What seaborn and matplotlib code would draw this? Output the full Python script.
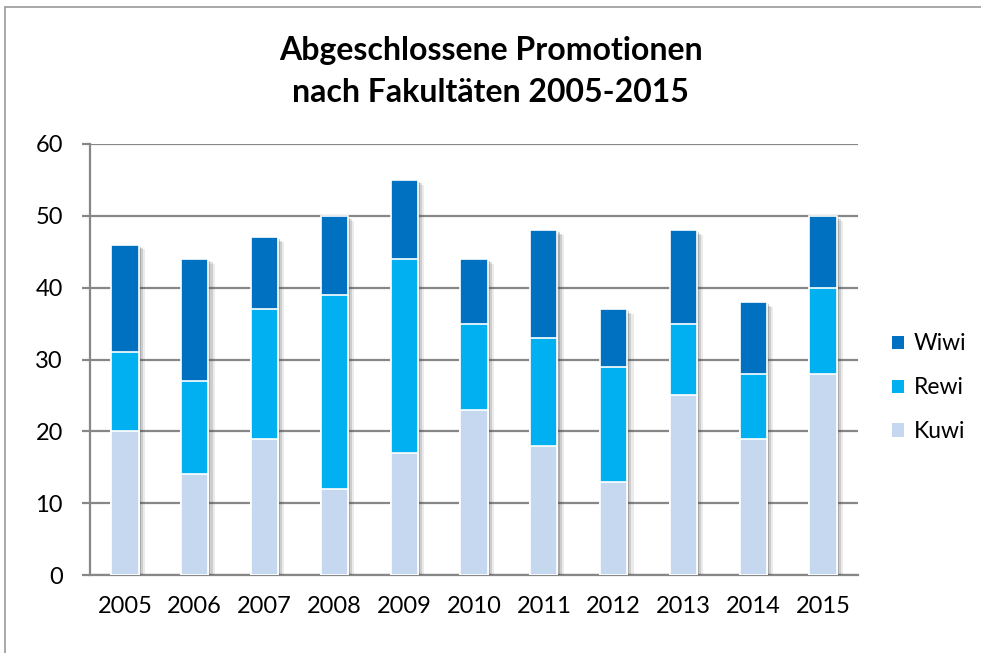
import numpy as np
import pandas as pd
import matplotlib
matplotlib.use("Agg")
import matplotlib.pyplot as plt
import seaborn as sns
from matplotlib.patches import Patch
from matplotlib.lines import Line2D
import matplotlib.patheffects as pe

# datos
anios = ["2005", "2006", "2007", "2008", "2009", "2010", "2011", "2012", "2013", "2014", "2015"]
kuwi = [20, 14, 19, 12, 17, 23, 18, 13, 25, 19, 28]
rewi = [11, 13, 18, 27, 27, 12, 15, 16, 10, 9, 12]
wiwi = [15, 17, 10, 11, 11, 9, 15, 8, 13, 10, 10]

colores = {"Kuwi": "#c6d8ef", "Rewi": "#00b0f0", "Wiwi": "#0070c0"}
gris = "#878787"

sns.set_theme(style="white")
plt.rcParams["font.family"] = ["Lato", "DejaVu Sans"]
plt.rcParams["text.color"] = "black"

df = pd.DataFrame({"anio": anios, "Kuwi": kuwi, "Rewi": rewi, "Wiwi": wiwi})
df["k"] = df["Kuwi"]
df["kr"] = df["Kuwi"] + df["Rewi"]
df["krw"] = df["Kuwi"] + df["Rewi"] + df["Wiwi"]

fig = plt.figure(figsize=(9.81, 6.53), dpi=100)
ax = fig.add_axes([90 / 981, 1 - 575 / 653, 768 / 981, 431 / 653])

ancho = 0.39
# sombra difusa: varias capas con poca opacidad
sombra = [pe.SimplePatchShadow(offset=(1.5, -1.5), shadow_rgbFace="#444444", alpha=0.25),
          pe.SimplePatchShadow(offset=(3, -2.5), shadow_rgbFace="#444444", alpha=0.18),
          pe.SimplePatchShadow(offset=(4.5, -3.5), shadow_rgbFace="#444444", alpha=0.1),
          pe.Normal()]
# barras apiladas dibujadas de arriba hacia abajo (totales acumulados)
sns.barplot(data=df, x="anio", y="krw", color=colores["Wiwi"], width=ancho, saturation=1,
            edgecolor="white", linewidth=1.2, ax=ax, zorder=3)
for p in ax.patches:
    p.set_path_effects(sombra)
sns.barplot(data=df, x="anio", y="kr", color=colores["Rewi"], width=ancho, saturation=1,
            edgecolor="white", linewidth=1.2, ax=ax, zorder=3)
sns.barplot(data=df, x="anio", y="k", color=colores["Kuwi"], width=ancho, saturation=1,
            edgecolor="white", linewidth=1.2, ax=ax, zorder=3)

ax.set_xlim(-0.5, len(anios) - 0.5)
ax.set_ylim(0, 60)
ax.set_yticks(range(0, 61, 10))
ax.yaxis.grid(True, color=gris, linewidth=1.6, zorder=0)
ax.set_axisbelow(True)
ax.set_xlabel("")
ax.set_ylabel("")

for s in ["top", "right"]:
    ax.spines[s].set_visible(False)
for s in ["left", "bottom"]:
    ax.spines[s].set_color(gris)
    ax.spines[s].set_linewidth(1.6)

ax.set_xticks(np.arange(-0.5, len(anios), 1.0), minor=True)
ax.tick_params(axis="x", which="major", length=0, labelsize=17, pad=15, labelcolor="black")
ax.tick_params(axis="x", which="minor", length=6, width=1.6, color=gris, direction="out")
ax.tick_params(axis="y", length=6, width=1.6, color=gris, direction="out", labelsize=17,
               pad=13.5, left=True, labelcolor="black")

fig.suptitle("Abgeschlossene Promotionen\nnach Fakultäten 2005-2015", x=0.5, y=0.945,
             fontsize=23, fontweight="bold", linespacing=1.55, color="black")

handles = [Patch(facecolor=colores[n], edgecolor="none", label=n) for n in ["Wiwi", "Rewi", "Kuwi"]]
fig.legend(handles=handles, loc="center left", bbox_to_anchor=(0.909, 0.406), frameon=False,
           fontsize=16.5, handlelength=0.52, handleheight=0.52, handletextpad=0.45,
           labelspacing=1.0, borderpad=0, borderaxespad=0, labelcolor="black")

# marco exterior (solo izquierda y arriba visibles)
fig.add_artist(Line2D([4.5 / 981, 4.5 / 981], [0, 1 - 7 / 653], transform=fig.transFigure,
                      color="#9a9a9a", linewidth=1.2))
fig.add_artist(Line2D([4.5 / 981, 1], [1 - 7 / 653, 1 - 7 / 653], transform=fig.transFigure,
                      color="#9a9a9a", linewidth=1.2))

fig.savefig("out.png", dpi=100, facecolor="white")
